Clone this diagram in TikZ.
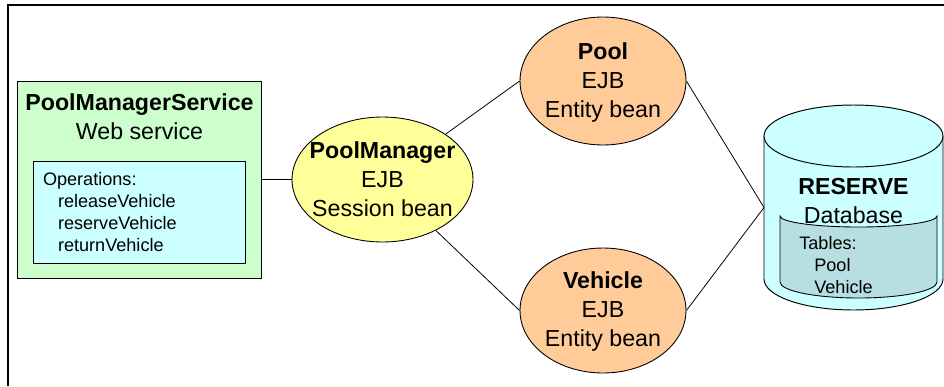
\documentclass[tikz,border=0pt]{standalone}
\usepackage{fontspec}
\setmainfont{Liberation Sans}
\usetikzlibrary{shapes.geometric}
\definecolor{svcgreen}{RGB}{204,255,204}
\definecolor{opcyan}{RGB}{204,255,255}
\definecolor{sessyellow}{RGB}{255,255,153}
\definecolor{entorange}{RGB}{255,204,153}
\definecolor{tblteal}{RGB}{183,222,224}

\begin{document}
\begin{tikzpicture}[
    x=0.02cm, y=-0.02cm,
    every node/.style={font=\fontsize{13.2}{16.5}\selectfont},
    small/.style={font=\fontsize{10.3}{12.5}\selectfont},
    svcbox/.style={draw, line width=0.55pt, fill=svcgreen, minimum width=4.9cm, minimum height=3.94cm},
    opbox/.style={draw, line width=0.55pt, fill=opcyan, small, align=left, text width=3.86cm, inner xsep=0.2cm, minimum height=2.04cm},
    bean/.style={draw, ellipse, line width=0.5pt, inner sep=0pt},
    lbl/.style={align=center, inner sep=0pt},
    link/.style={line width=0.45pt}
]
\useasboundingbox (0,0) rectangle (944,386);
\draw[line width=0.8pt] (944,5) -- (8,5) -- (8,386);

% web service
\node[svcbox] (svc) at (139.5,179.5) {};
\node[lbl] (svclbl) at (139.5,117) {\textbf{PoolManagerService}\\Web service};
\node[opbox] (ops) at (139.5,212) {Operations:\\\hspace*{0.3cm}releaseVehicle\\\hspace*{0.3cm}reserveVehicle\\\hspace*{0.3cm}returnVehicle};

% beans
\node[bean, fill=sessyellow, minimum width=3.62cm, minimum height=2.5cm] (pm) at (382.5,179.5) {};
\node[lbl] (pmlbl) at (pm) {\textbf{PoolManager}\\EJB\\Session bean};
\node[bean, fill=entorange, minimum width=3.32cm, minimum height=2.56cm] (pool) at (603,81) {};
\node[lbl] (poollbl) at (603,82.5) {\textbf{Pool}\\EJB\\Entity bean};
\node[bean, fill=entorange, minimum width=3.32cm, minimum height=2.5cm] (veh) at (603,310.5) {};
\node[lbl] (vehlbl) at (603,311.5) {\textbf{Vehicle}\\EJB\\Entity bean};

% database
\fill[opcyan] (764,136) -- (764,279) arc[start angle=180, end angle=0, x radius=89.5, y radius=31] -- (943,136) -- cycle;
\draw[line width=0.55pt] (764,136) -- (764,279) arc[start angle=180, end angle=0, x radius=89.5, y radius=31] -- (943,136);
\draw[line width=0.55pt, fill=opcyan] (853.5,136) ellipse [x radius=89.5, y radius=31];
\draw[line width=0.5pt, fill=tblteal] (780,216) arc[start angle=180, end angle=0, x radius=78.5, y radius=11]
    -- (937,282) arc[start angle=0, end angle=180, x radius=78.5, y radius=16] -- cycle;
\coordinate (dbw) at (764,207.5);
\node[lbl] (dblbl) at (853.5,201) {\textbf{RESERVE}\\Database};
\node[small, align=left, anchor=west, inner sep=0pt] (tbls) at (799,265) {Tables:\\\hspace*{0.3cm}Pool\\\hspace*{0.3cm}Vehicle};

% connectors
\draw[link] (svc.east) -- (pm);
\draw[link] (pm) -- (pool.west);
\draw[link] (pm) -- (veh.west);
\draw[link] (pool.east) -- (dbw);
\draw[link] (veh.east) -- (dbw);
\end{tikzpicture}
\end{document}
